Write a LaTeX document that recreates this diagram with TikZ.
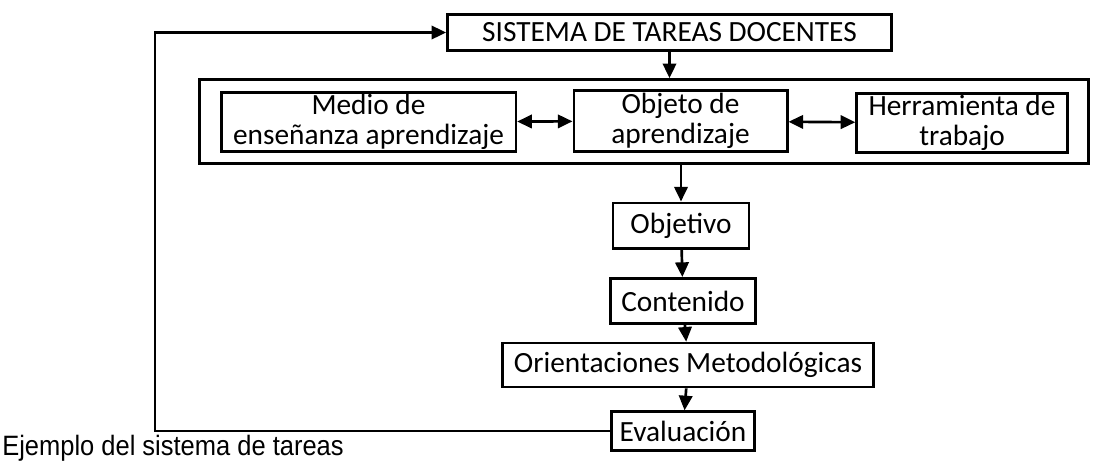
\documentclass[tikz,border=0pt]{standalone}
\usepackage{fontspec}
\setmainfont{Carlito}
\newfontfamily\leyendafont[FakeStretch=0.91]{Liberation Sans}
\usetikzlibrary{positioning,arrows.meta}

\begin{document}
\begin{tikzpicture}[x=0.75pt,y=-0.75pt,
  every node/.style={align=center,draw,line width=2pt,inner sep=0pt,
    font=\fontsize{22}{22.5}\selectfont},
  flecha/.style={line width=2pt,-{Triangle[length=11pt,width=10pt]}},
  doble/.style={line width=2pt,{Triangle[length=11pt,width=10pt]}-{Triangle[length=11pt,width=10pt]}}]
\useasboundingbox (0,0) rectangle (1102,462);

\node (sistema) [minimum width=333pt,minimum height=27pt] at (669.5,32.5) {SISTEMA DE TAREAS DOCENTES};
\node (marco) [minimum width=667pt,minimum height=63pt] at (644,121.5) {};
\node (medio) [minimum width=221pt,minimum height=44pt] at (368.5,122) {Medio de\\enseñanza aprendizaje};
\node (objeto) [minimum width=160pt,minimum height=46pt] at (680.5,121) {Objeto de\\aprendizaje};
\node (herram) [minimum width=158pt,minimum height=44pt] at (962,123) {Herramienta de\\trabajo};
\node (objetivo) [minimum width=102pt,minimum height=34pt] at (681,225.5) {Objetivo};
\node (contenido) [minimum width=109pt,minimum height=34pt] at (683,301) {Contenido};
\node (orient) [minimum width=278pt,minimum height=33pt] at (688,365) {Orientaciones Metodológicas};
\node (eval) [minimum width=107pt,minimum height=29pt] at (683,431) {Evaluación};
\coordinate (retorno) at (155,431);

\draw [flecha] (sistema.south) -- (sistema.south |- marco.north) ;
\draw [doble] (medio) -- (objeto) ;
\draw [doble] (objeto) -- (herram) ;
\draw [flecha] (marco.south -| objetivo) -- (objetivo) ;
\foreach \a/\b in {objetivo/contenido,contenido/orient,orient/eval}
  \draw [flecha] (\a) -- (\b) ;
\draw [flecha] (eval.west) -- (retorno) |- (sistema.west) ;

\node (leyenda) [draw=none,anchor=base west,font=\leyendafont\fontsize{21}{22}\selectfont]
  at (1,455) {Ejemplo del sistema de tareas};
\end{tikzpicture}
\end{document}
